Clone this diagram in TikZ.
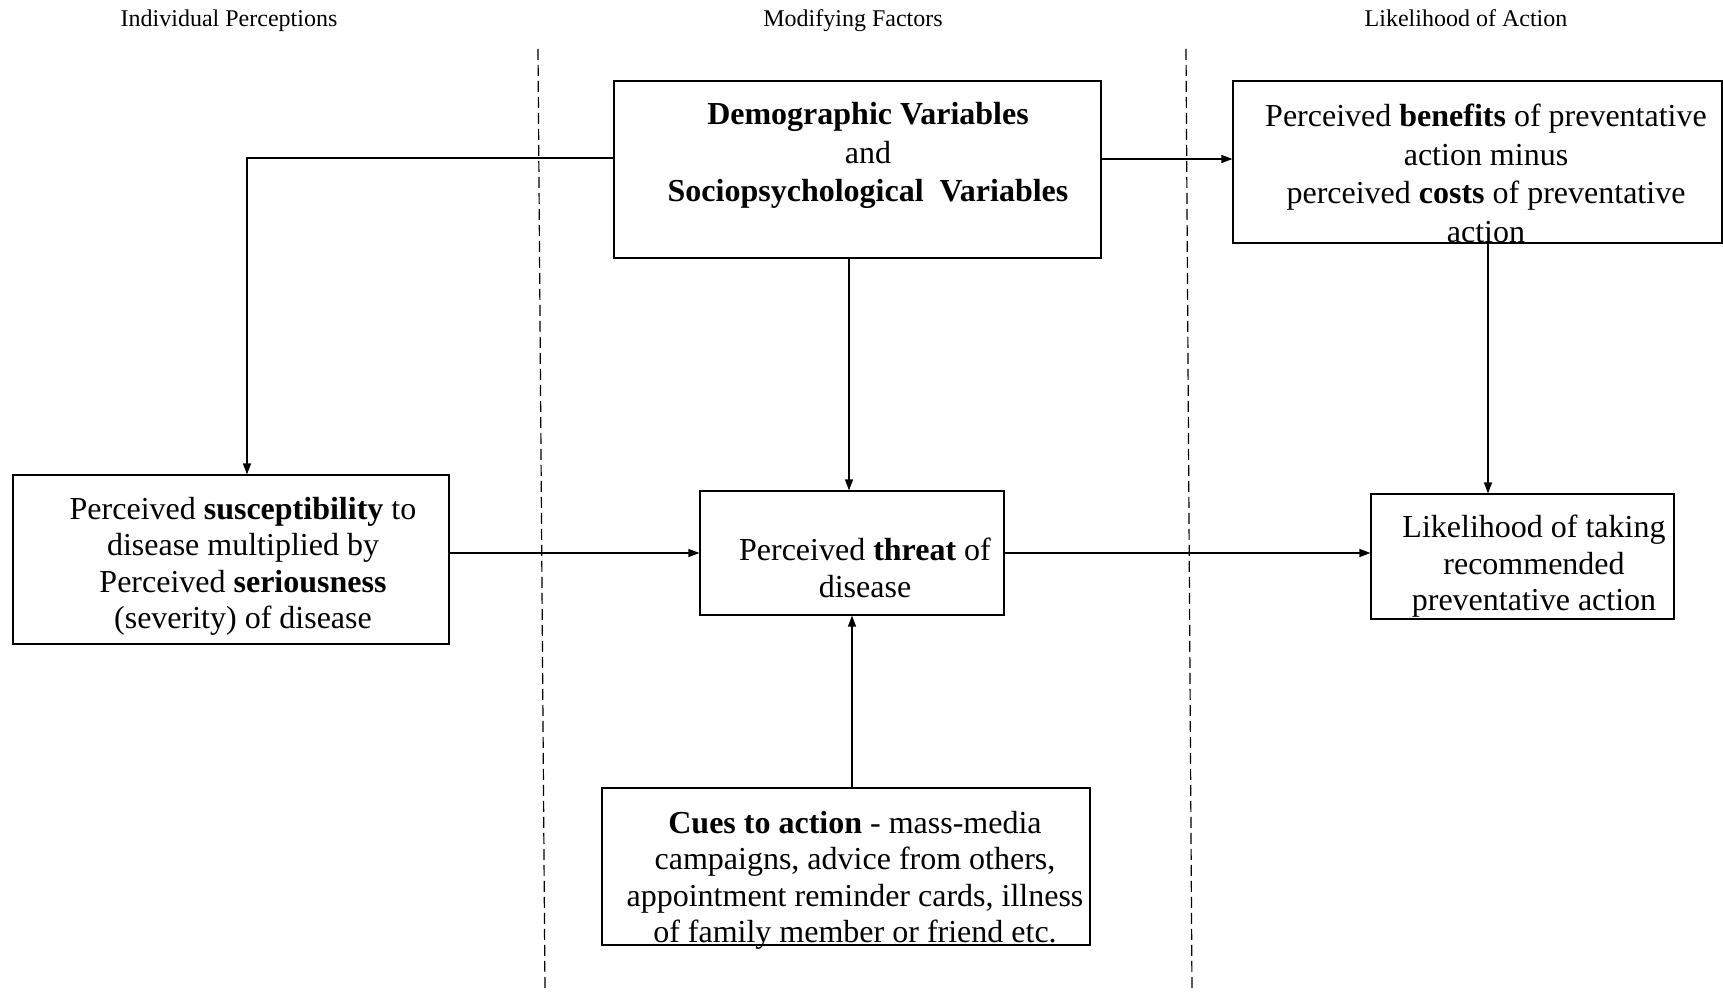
\documentclass[tikz,border=0pt]{standalone}
\usepackage{fontspec}
\setmainfont{Liberation Serif}
\usetikzlibrary{arrows.meta,fit}
\begin{document}
\begin{tikzpicture}[x=1pt,y=-1pt,
  box/.style={draw, line width=1.2pt, inner sep=0pt},
  txt/.style={align=center, inner sep=0pt, font=\fontsize{32}{36.5}\selectfont},
  wide/.style={txt, font=\fontsize{32}{38.5}\selectfont},
  head/.style={inner sep=0pt, anchor=base, font=\fontsize{24}{28}\selectfont},
  conn/.style={line width=1.2pt, -{Triangle[length=11pt,width=8pt]}},
  divider/.style={line width=1.2pt, dash pattern=on 11pt off 5pt}]
\useasboundingbox (0,0) rectangle (1723,992);

% column headings
\node[head] (h1) at (229,26.5) {Individual Perceptions};
\node[head] (h2) at (853,26.5) {Modifying Factors};
\node[head] (h3) at (1466,26.5) {Likelihood of Action};

% column dividers
\coordinate (d1a) at (538,49);  \coordinate (d1b) at (545,992);
\coordinate (d2a) at (1186,49); \coordinate (d2b) at (1192,992);
\draw[divider] (d1a) -- (d1b);
\draw[divider] (d2a) -- (d2b);

% boxes
\node[box, fit={(614,81) (1101,258)}] (demo) {};
\node[box, fit={(1233,81) (1722,243)}] (ben) {};
\node[box, fit={(13,475) (449,644)}] (susc) {};
\node[box, fit={(700,491) (1004,615)}] (threat) {};
\node[box, fit={(1371,494) (1674,619)}] (likely) {};
\node[box, fit={(602,788) (1090,945)}] (cues) {};

% box texts
\node[wide] (demotxt) at (868,155.5) {\textbf{Demographic Variables}\\and\\\textbf{Sociopsychological\ \ Variables}};
\node[wide] (bentxt) at (1486,173.5) {Perceived \textbf{benefits} of preventative\\action minus\\perceived \textbf{costs} of preventative\\action};
\node[txt] (susctxt) at (243,566.5) {Perceived \textbf{susceptibility} to\\disease multiplied by\\Perceived \textbf{seriousness}\\(severity) of disease};
\node[txt] (threattxt) at (865,568) {Perceived \textbf{threat} of\\disease};
\node[txt] (likelytxt) at (1534,566.5) {Likelihood of taking\\recommended\\preventative action};
\node[txt] (cuestxt) at (855,880.5) {\textbf{Cues to action} - mass-media\\campaigns, advice from others,\\appointment reminder cards, illness\\of family member or friend etc.};

% connectors
\draw[conn] ([yshift=11.5pt]demo.west) -| ([xshift=16pt]susc.north);
\draw[conn] ([yshift=10.5pt]demo.east) -- ([yshift=10.5pt]demo.east -| ben.west);
\draw[conn] ([xshift=-8.5pt]demo.south) -- ([xshift=-8.5pt]demo.south |- threat.north);
\draw[conn] ([xshift=10.5pt]ben.south) -- ([xshift=10.5pt]ben.south |- likely.north);
\draw[conn] (susc.east |- threat.west) -- (threat.west);
\draw[conn] (threat.east) -- (threat.east -| likely.west);
\draw[conn] (cues.north -| threat.south) -- (threat.south);
\end{tikzpicture}
\end{document}
